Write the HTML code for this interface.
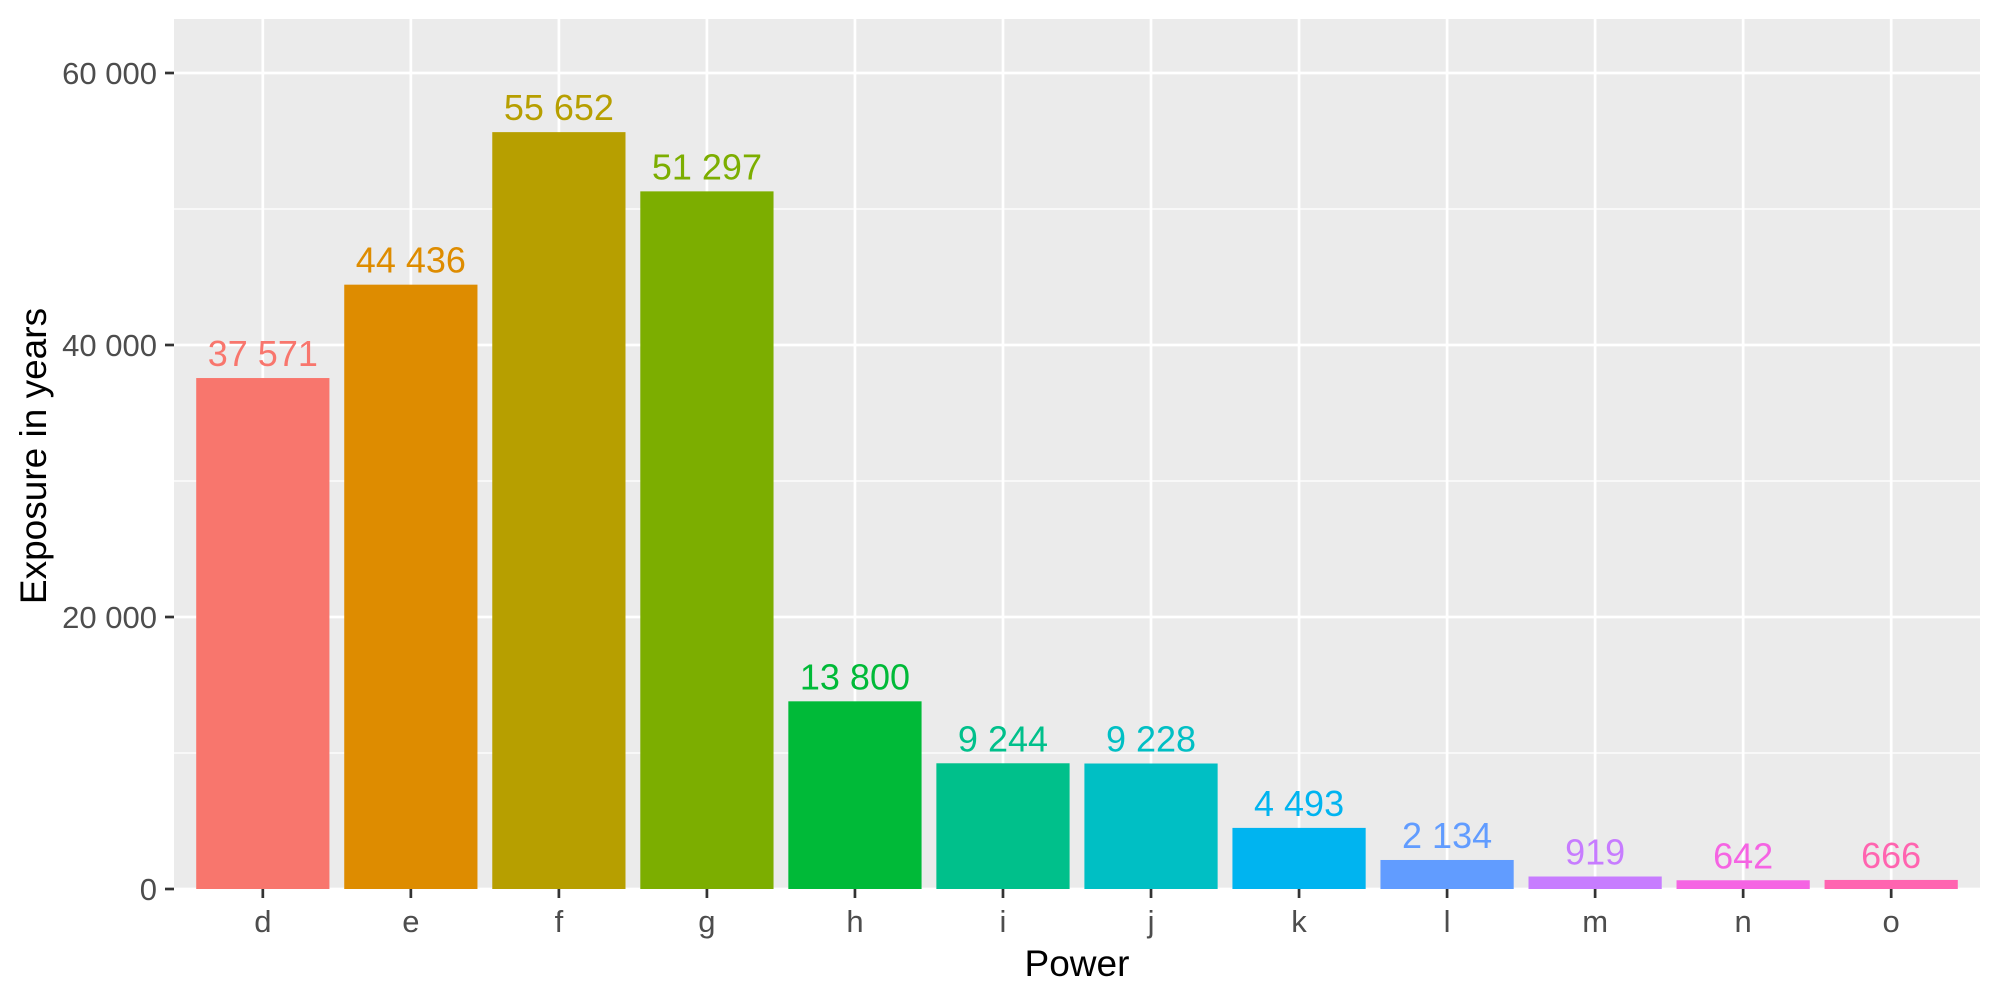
<!DOCTYPE html>
<html><head><meta charset="utf-8"><style>
html,body{margin:0;padding:0;background:#fff}
svg{display:block;font-family:"Liberation Sans",sans-serif}
</style></head><body>
<svg id="chart" width="2000" height="1000">
<rect x="174" y="19" width="1806" height="870" fill="#ebebeb"/>
<g id="grid"></g><g id="bars"></g><g id="axes"></g>
<text x="1077" y="976" text-anchor="middle" font-size="37" fill="#000">Power</text>
<text transform="translate(46,456) rotate(-90)" text-anchor="middle" font-size="37" fill="#000">Exposure in years</text>
</svg>
<script>
const categories=["d","e","f","g","h","i","j","k","l","m","n","o"];
const values=[37571,44436,55652,51297,13800,9244,9228,4493,2134,919,642,666];
const colors=["#F8766D","#DE8C00","#B79F00","#7CAE00","#00BA38","#00C08B","#00BFC4","#00B4F0","#619CFF","#C77CFF","#F564E3","#FF64B0"];
const yTicks=[0,20000,40000,60000];
const yMinor=[10000,30000,50000];
const NS="http://www.w3.org/2000/svg";
const L=174,R=1980,T=19,B=889;
const y0=889,y60=73;
function y(v){return y0-(v/60000)*(y0-y60);}
const band=(R-L)/(categories.length-1+1.2);
function xc(i){return L+band*(i+0.6);}
function fmt(v){return String(v).replace(/\B(?=(\d{3})+(?!\d))/g," ");}
function mk(tag,attrs,parent){const e=document.createElementNS(NS,tag);for(const k in attrs)e.setAttribute(k,attrs[k]);parent.appendChild(e);return e;}
const grid=document.getElementById("grid"),bars=document.getElementById("bars"),axes=document.getElementById("axes");
yMinor.forEach(v=>{const l=mk("line",{x1:L,x2:R,y1:y(v),y2:y(v),stroke:"#fff","stroke-width":1.3},grid);

});
yTicks.forEach(v=>{const l=mk("line",{x1:L,x2:R,y1:y(v),y2:y(v),stroke:"#fff","stroke-width":2.7},grid);


const t=mk("line",{x1:165,x2:174,y1:y(v),y2:y(v),stroke:"#333","stroke-width":2.7},axes);


const tx=mk("text",{x:157,y:y(v)+11,"text-anchor":"end","font-size":31,fill:"#4d4d4d"},axes);
tx.textContent=fmt(v);

});
const bw=band*0.9;
categories.forEach((c,i)=>{
const g=mk("line",{x1:xc(i),x2:xc(i),y1:T,y2:B,stroke:"#fff","stroke-width":2.7},grid);


const r=mk("rect",{x:xc(i)-bw/2,y:y(values[i]),width:bw,height:y0-y(values[i]),fill:colors[i]},bars);


const lb=mk("text",{x:xc(i),y:y(values[i])-12,"text-anchor":"middle","font-size":36,fill:colors[i]},bars);
lb.textContent=fmt(values[i]);


const t=mk("line",{x1:xc(i),x2:xc(i),y1:B,y2:B+9,stroke:"#333","stroke-width":2.7},axes);


const tx=mk("text",{x:xc(i),y:932,"text-anchor":"middle","font-size":31,fill:"#4d4d4d"},axes);
tx.textContent=c;


});
</script>
</body></html>
